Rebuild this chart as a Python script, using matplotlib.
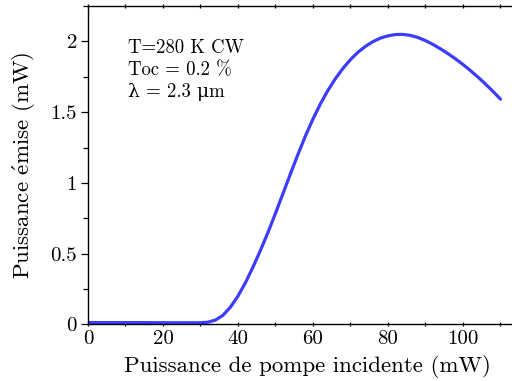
import numpy as np
import matplotlib
matplotlib.use("Agg")
import matplotlib.pyplot as plt
from matplotlib.ticker import MultipleLocator

plt.rcParams['font.family'] = ['cmr10', 'DejaVu Serif']
plt.rcParams['mathtext.fontset'] = 'cm'
plt.rcParams['axes.formatter.use_mathtext'] = True

# puissance de pompe (mW) / puissance emise (mW)
pompe = [0, 5, 10, 15, 20, 25, 30, 32, 34, 36, 38, 40, 42, 44, 46, 48, 50,
         52, 54, 56, 58, 60, 62, 64, 66, 68, 70, 72, 74, 76, 78, 80, 82,
         84, 86, 88, 90, 92, 94, 96, 98, 100, 102, 104, 106, 108, 110]
emise = [0.012, 0.012, 0.012, 0.012, 0.011, 0.011, 0.011, 0.015, 0.030, 0.064,
         0.122, 0.200, 0.295, 0.405, 0.524, 0.650, 0.785, 0.925, 1.065, 1.202,
         1.333, 1.452, 1.560, 1.655, 1.738, 1.810, 1.872, 1.924, 1.966, 1.999,
         2.024, 2.040, 2.049, 2.050, 2.043, 2.028, 2.006, 1.979, 1.948, 1.914,
         1.877, 1.837, 1.794, 1.748, 1.699, 1.647, 1.592]

fig = plt.figure(figsize=(5.12, 3.81), dpi=100)
ax = fig.add_axes([88 / 512, 1 - 324.3 / 381, (512 - 88) / 512, (324.3 - 5.7) / 381])
ax.plot(pompe, emise, color='#3c3cff', lw=2.3, solid_capstyle='round',
        solid_joinstyle='round')

ax.set_xlim(0, 113.07)
ax.set_ylim(0, 2.253)
ax.xaxis.set_major_locator(MultipleLocator(20))
ax.xaxis.set_minor_locator(MultipleLocator(10))
ax.yaxis.set_major_locator(MultipleLocator(0.5))
ax.yaxis.set_minor_locator(MultipleLocator(0.25))
ax.yaxis.set_major_formatter(plt.FuncFormatter(lambda v, p: f"{v:g}"))
ax.xaxis.set_major_formatter(plt.FuncFormatter(lambda v, p: f"{v:g}"))
ax.spines['right'].set_visible(False)
for s in ax.spines.values():
    s.set_linewidth(1.0)
ax.tick_params(which='major', direction='out', length=5, width=0.9, labelsize=15, pad=3)
ax.tick_params(which='minor', direction='out', length=3.5, width=0.9)
ax.tick_params(axis='x', which='both', top=True, labeltop=False)
ax.tick_params(axis='x', which='both', top=True, direction='inout', length=3)
ax.tick_params(axis='x', which='both', bottom=True)

ax.set_xlabel('Puissance de pompe incidente (mW)', fontsize=16.5, labelpad=5)
ax.xaxis.label.set_x((307.5 - 88) / 424)
ax.set_ylabel(r'Puissance $\acute{\mathrm{e}}$mise (mW)', fontsize=16.5, labelpad=9)

ax.text(40 / 424, 0.895, 'T=280 K CW\nToc = 0.2 %\nλ = 2.3 μm',
        transform=ax.transAxes, fontsize=13.5, va='top', ha='left', linespacing=1.27)

fig.savefig('out.png', dpi=100)
